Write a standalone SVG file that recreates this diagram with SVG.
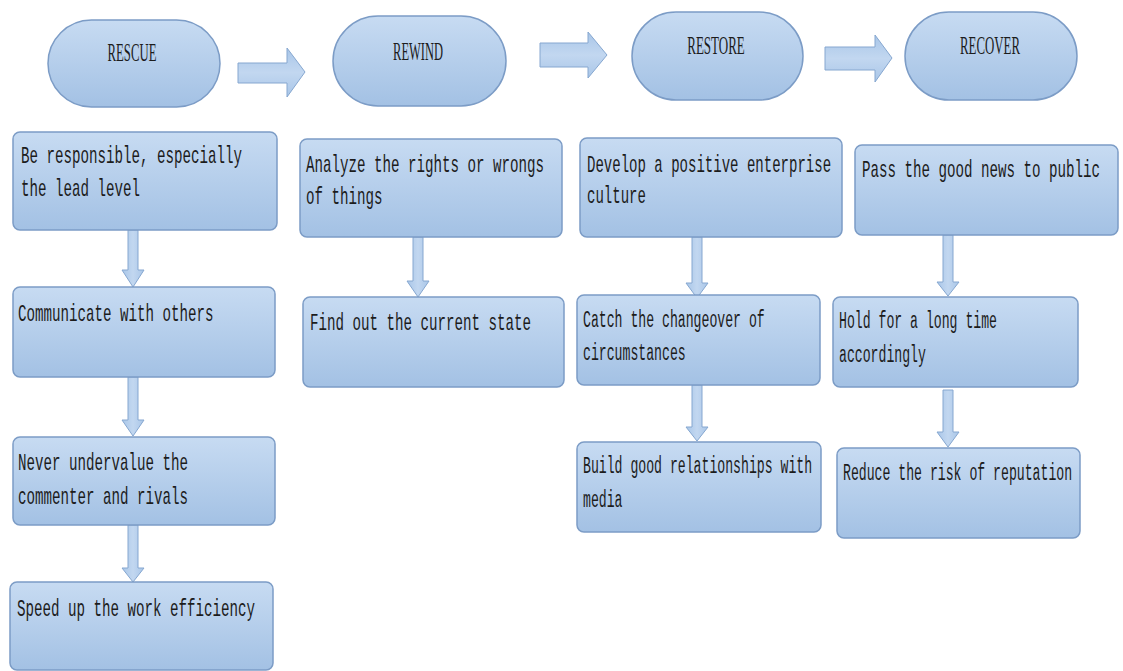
<svg xmlns="http://www.w3.org/2000/svg" width="1123" height="671" viewBox="0 0 1123 671">
<defs>
<linearGradient id="g" x1="0" y1="0" x2="0" y2="1">
<stop offset="0" stop-color="#c7dbf2"/>
<stop offset="1" stop-color="#a3c1e4"/>
</linearGradient>
<linearGradient id="ga" x1="0" y1="0" x2="1" y2="0">
<stop offset="0" stop-color="#a9c6e8"/>
<stop offset="0.5" stop-color="#c2d7f0"/>
<stop offset="1" stop-color="#a9c6e8"/>
</linearGradient>
<linearGradient id="gr" x1="0" y1="0" x2="0" y2="1">
<stop offset="0" stop-color="#a9c6e8"/>
<stop offset="0.5" stop-color="#c2d7f0"/>
<stop offset="1" stop-color="#a9c6e8"/>
</linearGradient>
</defs>
<style>
.n{fill:url(#g);stroke:#7c9cc6;stroke-width:1.5}
.d{fill:url(#ga);stroke:#86a7d0;stroke-width:1}
.r{fill:url(#gr);stroke:#86a7d0;stroke-width:1}
.t{font-family:"Liberation Mono",monospace;font-size:23px;fill:#1c1c1c}
.h{font-family:"Liberation Serif",serif;font-size:26px;fill:#1c1c1c;text-anchor:middle}
</style>
<rect width="1123" height="671" fill="#ffffff"/>
<g id="connectors">
<polygon class="r" points="238,63 287,63 287,48 305,72 287,97 287,83 238,83"/>
<polygon class="r" points="540,43 588,43 588,32 607,55 588,78 588,67 540,67"/>
<polygon class="r" points="825,47 875,47 875,35 892,58 875,82 875,70 825,70"/>
<polygon class="d" points="128,230 138,230 138,270 144,270 133,287 122,270 128,270"/>
<polygon class="d" points="128,377 138,377 138,420 144,420 133,436 122,420 128,420"/>
<polygon class="d" points="128,525 138,525 138,568 144,568 133,582 122,568 128,568"/>
<polygon class="d" points="413,237 423,237 423,281 429,281 418,297 407,281 413,281"/>
<polygon class="d" points="692,237 702,237 702,283 708,283 697,298 686,283 692,283"/>
<polygon class="d" points="692,385 702,385 702,427 708,427 697,441 686,427 692,427"/>
<polygon class="d" points="943,235 953,235 953,282 959,282 948,296 937,282 943,282"/>
<polygon class="d" points="943,390 953,390 953,432 959,432 948,447 937,432 943,432"/>
</g>
<g id="rescue">
<rect class="n" x="48" y="20" width="172" height="87" rx="43.5"/>
<text class="h" transform="translate(132,61) scale(0.49,1)">RESCUE</text>
</g>
<g id="rewind">
<rect class="n" x="333" y="16" width="173" height="90" rx="45"/>
<text class="h" transform="translate(418,60) scale(0.48,1)">REWIND</text>
</g>
<g id="restore">
<rect class="n" x="632" y="12" width="171" height="88" rx="44"/>
<text class="h" transform="translate(716,54) scale(0.5,1)">RESTORE</text>
</g>
<g id="recover">
<rect class="n" x="905" y="12" width="172" height="88" rx="44"/>
<text class="h" transform="translate(990,54) scale(0.495,1)">RECOVER</text>
</g>
<g id="c1b1">
<rect class="n" x="13" y="132" width="264" height="98" rx="7"/>
<text class="t" transform="translate(21,163) scale(0.616,1)">Be responsible, especially</text>
<text class="t" transform="translate(21,196) scale(0.616,1)">the lead level</text>
</g>
<g id="c1b2">
<rect class="n" x="13" y="287" width="262" height="90" rx="7"/>
<text class="t" transform="translate(18,321) scale(0.616,1)">Communicate with others</text>
</g>
<g id="c1b3">
<rect class="n" x="13" y="437" width="262" height="88" rx="7"/>
<text class="t" transform="translate(18,470) scale(0.616,1)">Never undervalue the</text>
<text class="t" transform="translate(18,504) scale(0.616,1)">commenter and rivals</text>
</g>
<g id="c1b4">
<rect class="n" x="10" y="582" width="263" height="88" rx="7"/>
<text class="t" transform="translate(17,616) scale(0.616,1)">Speed up the work efficiency</text>
</g>
<g id="c2b1">
<rect class="n" x="300" y="139" width="262" height="98" rx="7"/>
<text class="t" transform="translate(306,172) scale(0.616,1)">Analyze the rights or wrongs</text>
<text class="t" transform="translate(306,204) scale(0.616,1)">of things</text>
</g>
<g id="c2b2">
<rect class="n" x="303" y="297" width="261" height="90" rx="7"/>
<text class="t" transform="translate(310,330) scale(0.616,1)">Find out the current state</text>
</g>
<g id="c3b1">
<rect class="n" x="580" y="138" width="262" height="99" rx="7"/>
<text class="t" transform="translate(587,172) scale(0.61,1)">Develop a positive enterprise</text>
<text class="t" transform="translate(587,203) scale(0.61,1)">culture</text>
</g>
<g id="c3b2">
<rect class="n" x="577" y="295" width="243" height="90" rx="7"/>
<text class="t" transform="translate(583,327) scale(0.5725,1)">Catch the changeover of</text>
<text class="t" transform="translate(583,360) scale(0.5725,1)">circumstances</text>
</g>
<g id="c3b3">
<rect class="n" x="577" y="442" width="244" height="90" rx="7"/>
<text class="t" transform="translate(583,473) scale(0.5725,1)">Build good relationships with</text>
<text class="t" transform="translate(583,507) scale(0.5725,1)">media</text>
</g>
<g id="c4b1">
<rect class="n" x="855" y="145" width="263" height="90" rx="7"/>
<text class="t" transform="translate(862,177) scale(0.616,1)">Pass the good news to public</text>
</g>
<g id="c4b2">
<rect class="n" x="833" y="297" width="245" height="90" rx="7"/>
<text class="t" transform="translate(839,328) scale(0.5725,1)">Hold for a long time</text>
<text class="t" transform="translate(839,362) scale(0.5725,1)">accordingly</text>
</g>
<g id="c4b3">
<rect class="n" x="837" y="448" width="243" height="90" rx="7"/>
<text class="t" transform="translate(843,480) scale(0.5725,1)">Reduce the risk of reputation</text>
</g>
</svg>
